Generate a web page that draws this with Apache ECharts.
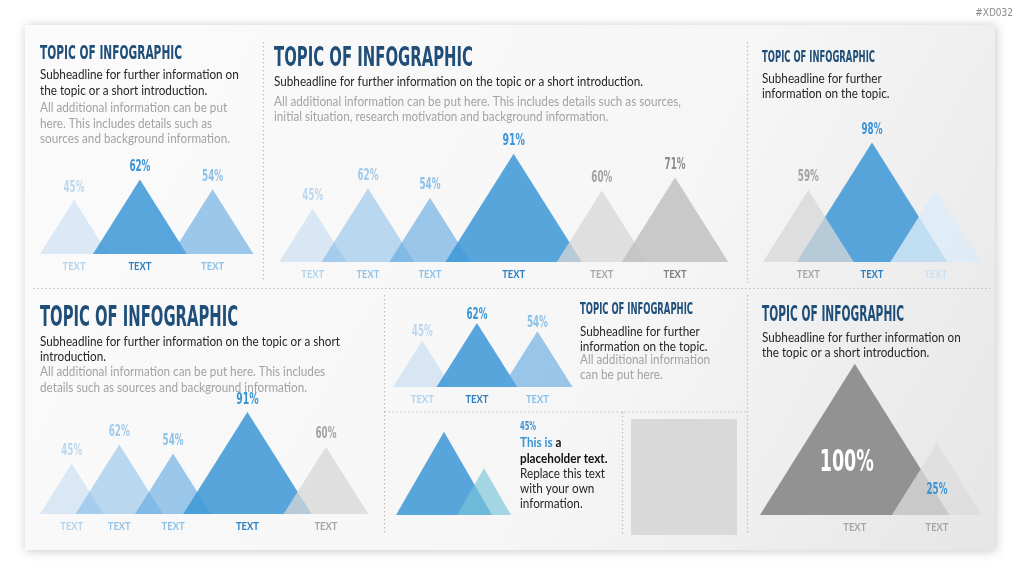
<!DOCTYPE html>
<html><head><meta charset="utf-8">
<script src="https://cdn.jsdelivr.net/npm/echarts@6/dist/echarts.min.js"></script>
<style>html,body{margin:0;padding:0;background:#fff}#c{width:1024px;height:576px}</style>
</head><body><div id="c"></div>
<script>
// ---------------- DATA ----------------
const TITLE = 'TOPIC OF INFOGRAPHIC';
const CODE = '#XD032';

const A_labels = ['TEXT', 'TEXT', 'TEXT'];
const A_values = [45, 62, 54];
const A_pct = ['45%', '62%', '54%'];

const B_labels = ['TEXT', 'TEXT', 'TEXT', 'TEXT', 'TEXT', 'TEXT'];
const B_values = [45, 62, 54, 91, 60, 71];
const B_pct = ['45%', '62%', '54%', '91%', '60%', '71%'];

const C_labels = ['TEXT', 'TEXT', 'TEXT'];
const C_values = [59, 98, 59];
const C_pct = ['59%', '98%', ''];

const D_labels = ['TEXT', 'TEXT', 'TEXT', 'TEXT', 'TEXT'];
const D_values = [45, 62, 54, 91, 60];
const D_pct = ['45%', '62%', '54%', '91%', '60%'];

const E_labels = ['TEXT', 'TEXT', 'TEXT'];
const E_values = [45, 62, 54];
const E_pct = ['45%', '62%', '54%'];

const F_labels = ['', ''];
const F_values = [80, 45];
const F_pct = ['', ''];

const G_labels = ['TEXT', 'TEXT'];
const G_values = [100, 25];
const G_pct = ['100%', '25%'];

const SUB_A = ['Subheadline for further information on', 'the topic or a short introduction.'];
const INFO_A = ['All additional information can be put', 'here. This includes details such as', 'sources and background information.'];
const SUB_B = ['Subheadline for further information on the topic or a short introduction.'];
const INFO_B = ['All additional information can be put here. This includes details such as sources,', 'initial situation, research motivation and background information.'];
const SUB_C = ['Subheadline for further', 'information on the topic.'];
const SUB_D = ['Subheadline for further information on the topic or a short', 'introduction.'];
const INFO_D = ['All additional information can be put here. This includes', 'details such as sources and background information.'];
const SUB_E = ['Subheadline for further', 'information on the topic.'];
const INFO_E = ['All additional information', 'can be put here.'];
const SUB_G = ['Subheadline for further information on', 'the topic or a short introduction.'];
const NOTE_PCT = '45%';
const NOTE_HEAD = ['This is', 'a'];
const NOTE_BOLD = ['placeholder text.'];
const NOTE_BODY = ['Replace this text', 'with your own', 'information.'];

// ---------------- STYLE ----------------
const COND = '"DejaVu Sans Condensed", "DejaVu Sans", sans-serif';
const BODY = 'Lato, "Open Sans", sans-serif';
const BODY_FS = 13;
const NAVY = '#1f4e79';
const STYLES = {
  L1: { fill: 'rgba(91,165,225,0.2)', pct: '#bcd8f0', txt: '#b3d4ef' },
  L2: { fill: 'rgba(91,165,225,0.4)', pct: '#a3cbec', txt: '#95c4ea' },
  L3: { fill: 'rgba(91,165,225,0.6)', pct: '#8cc1e8', txt: '#8cc2e9' },
  B:  { fill: 'rgba(60,150,215,0.85)', pct: '#3b94d6', txt: '#2d7fc1' },
  G1: { fill: 'rgba(215,215,215,0.75)', pct: '#a3a3a3', txt: '#a6a6a6' },
  G2: { fill: 'rgba(190,190,190,0.8)', pct: '#8c8c8c', txt: '#7f7f7f' },
  W1: { fill: 'rgba(220,235,248,0.8)', pct: '#cbe1f4', txt: '#cbe1f4' },
  G3: { fill: 'rgba(120,120,120,0.78)', pct: '#ffffff', txt: '#a6a6a6' },
  G4: { fill: 'rgba(220,220,220,0.75)', pct: '#3b94d6', txt: '#a6a6a6' },
  T:  { fill: 'rgba(120,195,215,0.65)', pct: '#3b94d6', txt: '#a6a6a6' }
};

const ctx = document.createElement('canvas').getContext('2d');
function measure(text, font) { ctx.font = font; return ctx.measureText(text).width; }
const pctScale = 21 / measure('62%', 'bold 15px ' + COND);
const lblScale = 23 / measure('TEXT', 'bold 11px ' + BODY);
const bodyScale = 369 / measure(SUB_B[0], BODY_FS + 'px ' + BODY);

const panels = [
  { values: A_values, pct: A_pct, labels: A_labels, left: 40, base: 254, k: 1.2, yMin: 0, yMax: 100, overlap: 15, ratio: 0.63, styles: ['L1', 'B', 'L3'], order: [0, 1, 2], pctSize: [15, 15, 15], gap: 12 },
  { values: B_values, pct: B_pct, labels: B_labels, left: 279, base: 262, k: 1.19, yMin: 0, yMax: 100, overlap: 25, ratio: 0.63, styles: ['L1', 'L2', 'L3', 'B', 'G1', 'G2'], order: [0, 1, 2, 3, 4, 5], pctSize: [15, 15, 15, 16, 15, 15], gap: 12.5 },
  { values: C_values, pct: C_pct, labels: C_labels, left: 763, base: 262, k: 1.22, yMin: 0, yMax: 100, overlap: 57, ratio: 0.63, styles: ['G1', 'B', 'W1'], order: [1, 0, 1], pctSize: [15, 15, 15], gap: 12.5 },
  { values: D_values, pct: D_pct, labels: D_labels, left: 40, base: 514, k: 1.12, yMin: 0, yMax: 100, overlap: 28, ratio: 0.63, styles: ['L1', 'L2', 'L3', 'B', 'G1'], order: [0, 1, 2, 3, 4], pctSize: [15, 15, 15, 16, 15], gap: 12.5 },
  { values: E_values, pct: E_pct, labels: E_labels, left: 393, base: 387, k: 1.033, yMin: 0, yMax: 100, overlap: 15, ratio: 0.63, styles: ['L1', 'B', 'L3'], order: [0, 1, 2], pctSize: [15, 15, 15], gap: 8 },
  { values: F_values, pct: F_pct, labels: F_labels, left: 396, base: 515, k: 1.04, yMin: 0, yMax: 100, overlap: 35, ratio: 0.577, styles: ['B', 'T'], order: [0, 1], pctSize: [15, 15], gap: 12 },
  { values: G_values, pct: G_pct, labels: G_labels, left: 760, base: 515, k: 1.057, yMin: -43, yMax: 100, overlap: 57.6, ratio: 0.627, styles: ['G3', 'G4'], order: [0, 1], pctSize: [30, 15], gap: 12, inside: 0.66, insideDx: [-8, 0] }
];

function makeRender(P) {
  return function (params, api) {
    const i = params.dataIndex;
    const origin = api.coord([0, P.yMin]);
    const by = origin[1];
    let left = origin[0], half = 0, top = 0;
    for (let j = 0; j <= i; j++) {
      const t = api.coord([0, j === i ? api.value(1) : P.values[j]]);
      const hf = (by - t[1]) * P.ratio;
      if (j < i) left += 2 * hf - P.overlap;
      else { half = hf; top = t[1]; }
    }
    const cx = left + half, h = by - top;
    const st = STYLES[P.styles[i]];
    const children = [{
      type: 'polygon', z2: P.order[i],
      shape: { points: [[cx - half, by], [cx, top], [cx + half, by]] },
      style: { fill: st.fill }
    }];
    if (P.pct[i]) {
      const dx = P.insideDx ? P.insideDx[i] : 0;
      children.push({
        type: 'text', z2: 50, x: cx + dx, y: P.inside ? top + h * P.inside : top - P.gap, scaleX: pctScale,
        style: { text: P.pct[i], fill: st.pct, fontFamily: COND, fontWeight: 'bold', fontSize: P.pctSize[i], align: 'center', verticalAlign: 'middle' }
      });
    }
    if (P.labels[i]) {
      children.push({
        type: 'text', z2: 50, x: cx, y: by + 12.5, scaleX: lblScale,
        style: { text: P.labels[i], fill: st.txt, fontFamily: BODY, fontWeight: 'bold', fontSize: 11, align: 'center', verticalAlign: 'middle' }
      });
    }
    return { type: 'group', children };
  };
}

const grids = [], xAxes = [], yAxes = [], series = [];
panels.forEach((P, idx) => {
  const hgt = P.k * (P.yMax - P.yMin);
  grids.push({ left: P.left, top: P.base - hgt, width: 100, height: hgt, outerBoundsMode: 'none', containLabel: false });
  xAxes.push({ type: 'value', gridIndex: idx, show: false, min: 0, max: 1 });
  yAxes.push({ type: 'value', gridIndex: idx, show: false, min: P.yMin, max: P.yMax });
  series.push({
    type: 'custom', xAxisIndex: idx, yAxisIndex: idx, clip: false, silent: true,
    data: P.values.map(v => [0, v]), renderItem: makeRender(P)
  });
});

// ---------------- GRAPHIC TEXT ----------------
const G = [];
G.push({
  type: 'rect', z: 0, shape: { x: 25, y: 25, width: 970, height: 525 },
  style: {
    fill: { type: 'linear', x: 0, y: 0, x2: 1, y2: 1, colorStops: [{ offset: 0, color: '#fbfbfb' }, { offset: 0.6, color: '#f6f6f6' }, { offset: 1, color: '#e6e6e6' }] },
    shadowBlur: 10, shadowColor: 'rgba(0,0,0,0.22)', shadowOffsetX: 1, shadowOffsetY: 1
  }
});
G.push({ type: 'text', z: 10, x: 1013, y: 13, style: { text: CODE, fill: '#8a8a8a', fontFamily: COND, fontSize: 10, align: 'right', verticalAlign: 'middle' } });

function dline(x1, y1, x2, y2) {
  G.push({ type: 'line', z: 1, shape: { x1, y1, x2, y2 }, style: { stroke: '#bdbdbd', lineWidth: 1.2, lineDash: [1.5, 2.5] } });
}
dline(263.5, 42, 263.5, 282);
dline(747.5, 42, 747.5, 283);
dline(33, 288.5, 990, 288.5);
dline(384.5, 295, 384.5, 535);
dline(384.5, 412, 747.5, 412);
dline(622.5, 412, 622.5, 535);
dline(747.5, 295, 747.5, 535);

function title(x, capTop, capBot, width) {
  const fs = (capBot - capTop) / 0.729;
  const sc = width / measure(TITLE, 'bold ' + fs + 'px ' + COND);
  G.push({ type: 'text', z: 10, x, y: (capTop + capBot) / 2 + 0.067 * fs, scaleX: sc,
    style: { text: TITLE, fill: NAVY, fontFamily: COND, fontWeight: 'bold', fontSize: fs, align: 'left', verticalAlign: 'middle' } });
}
title(40, 45, 59.3, 142);
title(274, 46.7, 66.7, 199);
title(762, 50.7, 62.7, 113);
title(40, 306, 327.3, 198);
title(580, 303.3, 315, 113);
title(762, 306.7, 322.3, 142);

function block(x, y0, lines, color, step, weight) {
  lines.forEach((t, i) => {
    G.push({ type: 'text', z: 10, x, y: y0 + i * step, scaleX: bodyScale,
      style: { text: t, fill: color, fontFamily: BODY, fontWeight: weight || 'normal', fontSize: BODY_FS, align: 'left', verticalAlign: 'middle' } });
  });
}
const DARK = '#262626', GRAY = '#a3a3a3';
block(40, 75, SUB_A, DARK, 15.7);
block(40, 108.3, INFO_A, GRAY, 15.3);
block(274, 81.5, SUB_B, DARK, 15.5);
block(274, 101.7, INFO_B, GRAY, 15.6);
block(762, 79, SUB_C, DARK, 15);
block(40, 341.7, SUB_D, DARK, 15);
block(40, 372.3, INFO_D, GRAY, 16);
block(580, 331.7, SUB_E, DARK, 15);
block(580, 360, INFO_E, GRAY, 15);
block(762, 338.3, SUB_G, DARK, 15);

G.push({ type: 'text', z: 10, x: 520, y: 427.3, scaleX: pctScale,
  style: { text: NOTE_PCT, fill: '#3b94d6', fontFamily: COND, fontWeight: 'bold', fontSize: 11.5, align: 'left', verticalAlign: 'middle' } });
G.push({ type: 'text', z: 10, x: 520, y: 443.3, scaleX: bodyScale,
  style: { text: '{b|' + NOTE_HEAD[0] + '} {k|' + NOTE_HEAD[1] + '}', fontFamily: BODY, fontSize: BODY_FS, fontWeight: 'bold', align: 'left', verticalAlign: 'middle',
    rich: { b: { fill: '#3b94d6', fontFamily: BODY, fontSize: BODY_FS, fontWeight: 'bold' }, k: { fill: '#111111', fontFamily: BODY, fontSize: BODY_FS, fontWeight: 'bold' } } } });
block(520, 458.5, NOTE_BOLD, '#111111', 15.2, 'bold');
block(520, 473.5, NOTE_BODY, DARK, 15.2);

G.push({ type: 'rect', z: 1, shape: { x: 631, y: 419, width: 106, height: 116 }, style: { fill: '#d9d9d9' } });

const chart = echarts.init(document.getElementById('c'), null, { renderer: 'canvas' });
chart.setOption({
  animation: false,
  backgroundColor: '#ffffff',
  grid: grids, xAxis: xAxes, yAxis: yAxes, series: series,
  graphic: { elements: G }
});
</script></body></html>
